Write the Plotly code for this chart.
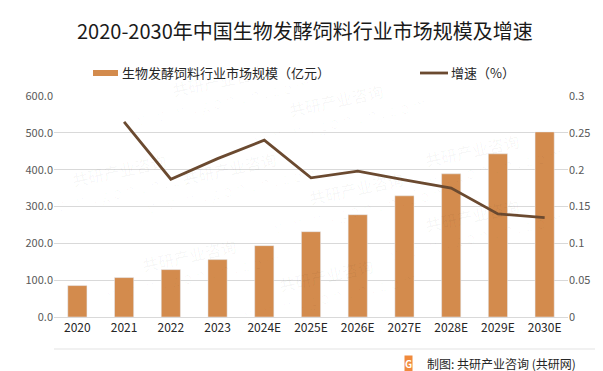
import plotly.graph_objects as go

categories = ["2020", "2021", "2022", "2023", "2024E", "2025E", "2026E", "2027E", "2028E", "2029E", "2030E"]
market_size = [85.3, 107.0, 128.7, 155.8, 193.7, 231.6, 277.7, 329.0, 388.7, 443.0, 502.5]
growth_cats = ["2021", "2022", "2023", "2024E", "2025E", "2026E", "2027E", "2028E", "2029E", "2030E"]
growth_rate = [0.265, 0.187, 0.215, 0.240, 0.189, 0.198, 0.186, 0.175, 0.140, 0.135]
left_ticks = [0, 100, 200, 300, 400, 500, 600]
left_labels = ["0.0", "100.0", "200.0", "300.0", "400.0", "500.0", "600.0"]
right_ticks = [0, 0.05, 0.1, 0.15, 0.2, 0.25, 0.3]
right_labels = ["0", "0.05", "0.1", "0.15", "0.2", "0.25", "0.3"]

BAR = "#D38B4D"
LINE = "#6B4A30"
TXT = "#595959"
FONT = "Noto Sans CJK SC"

fig = go.Figure()
fig.add_trace(go.Bar(x=categories, y=market_size, marker_color=BAR, width=0.41,
                     name="生物发酵饲料行业市场规模（亿元）", showlegend=False))
fig.add_trace(go.Scatter(x=growth_cats, y=growth_rate, mode="lines", yaxis="y2",
                         line=dict(color=LINE, width=2.8), name="增速（%）", showlegend=False))

L, R, T, B = 46, 43, 88, 62
W, H = 603, 371
pw, ph = W - L - R, H - T - B

def px(x):
    return (x - L) / pw

def py(y):
    return (H - B - y) / ph

shapes = [
    dict(type="rect", xref="paper", yref="paper", x0=px(85), x1=px(110), y0=py(68), y1=py(62),
         fillcolor=BAR, line_width=0),
    dict(type="line", xref="paper", yref="paper", x0=px(412), x1=px(440), y0=py(65), y1=py(65),
         line=dict(color=LINE, width=2.8)),
    dict(type="line", xref="paper", yref="paper", x0=px(46), x1=px(588), y0=py(341), y1=py(341),
         line=dict(color="#E3E3E3", width=1)),
]

annotations = [
    dict(text="2020-2030年中国生物发酵饲料行业市场规模及增速", xref="paper", yref="paper",
         x=px(297), y=py(23), showarrow=False, xanchor="center", yanchor="middle",
         font=dict(family=FONT, size=20, color="#1a1a1a")),
    dict(text="生物发酵饲料行业市场规模（亿元）", xref="paper", yref="paper",
         x=px(112), y=py(65), showarrow=False, xanchor="left", yanchor="middle",
         font=dict(family=FONT, size=13, color="#262626")),
    dict(text="增速（%）", xref="paper", yref="paper",
         x=px(441), y=py(65), showarrow=False, xanchor="left", yanchor="middle",
         font=dict(family=FONT, size=13, color="#262626")),
    dict(text="<b>G</b>", xref="paper", yref="paper",
         x=px(400), y=py(355), showarrow=False, xanchor="center", yanchor="middle",
         bgcolor="#F08A3C", borderpad=0,
         font=dict(family=FONT, size=10, color="white")),
    dict(text="制图: 共研产业咨询 (共研网)", xref="paper", yref="paper",
         x=px(417), y=py(355), showarrow=False, xanchor="left", yanchor="middle",
         font=dict(family=FONT, size=12, color="#262626")),
]

# faint watermarks
wm_pos = [(120, 40), (330, 60), (560, 110), (130, 170), (350, 190), (90, 300), (320, 320), (560, 260), (20, 130)]
for (wx, wy) in wm_pos:
    annotations.append(dict(text="<b>共研产业咨询</b><br>w  w  w . g o n y n . c o m", xref="paper", yref="paper",
                            x=px(wx), y=py(wy), showarrow=False, textangle=-12,
                            font=dict(family=FONT, size=16, color="rgba(0,0,0,0.028)")))

fig.update_layout(
    width=W, height=H,
    margin=dict(l=L, r=R, t=T, b=B),
    paper_bgcolor="white", plot_bgcolor="white",
    bargap=0.59,
    font=dict(family=FONT, size=11, color=TXT),
    xaxis=dict(type="category", categoryorder="array", categoryarray=categories,
               showgrid=False, showline=True, linecolor="#D9D9D9", ticks="",
               tickfont=dict(family=FONT, size=12, color="#262626")),
    yaxis=dict(range=[0, 600], tickvals=left_ticks, ticktext=left_labels,
               showgrid=True, gridcolor="#D9D9D9", zeroline=False, showline=False,
               tickfont=dict(family=FONT, size=11, color=TXT)),
    yaxis2=dict(range=[0, 0.3], tickvals=right_ticks, ticktext=right_labels,
                overlaying="y", side="right", showgrid=False, zeroline=False,
                tickfont=dict(family=FONT, size=11, color=TXT)),
    shapes=shapes,
    annotations=annotations,
    showlegend=False,
)

fig.write_html("out.html")
